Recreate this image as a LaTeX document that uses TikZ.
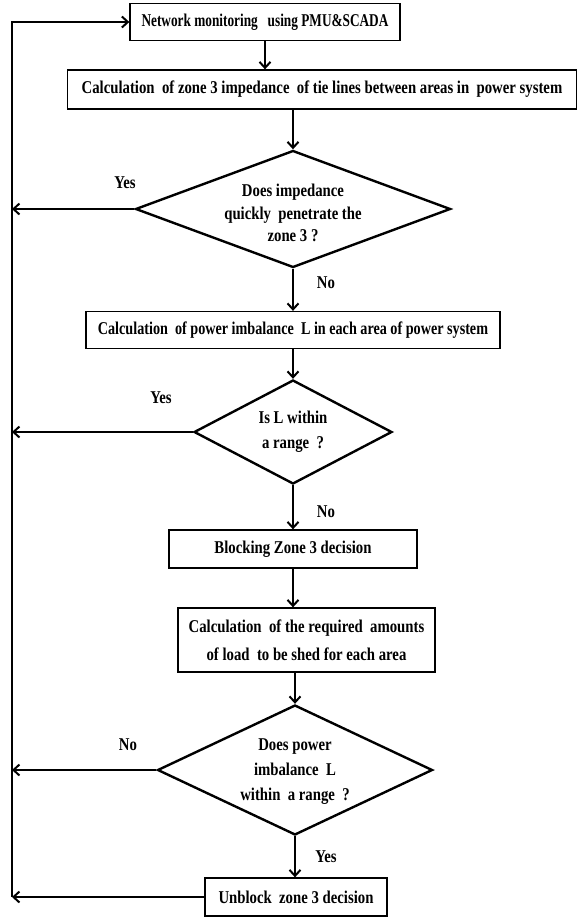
\documentclass[tikz,border=0pt]{standalone}
\usepackage{fontspec}
\setmainfont{Liberation Serif}[FakeStretch=0.82]
\usetikzlibrary{shapes.geometric,arrows.meta}
\begin{document}
\begin{tikzpicture}[x=1pt,y=-1pt,
  every node/.style={font=\bfseries\fontsize{18}{22.5}\selectfont},
  box/.style={draw,line width=1.3pt,inner sep=0pt,align=center},
  dia/.style={draw,diamond,line width=2.4pt,inner sep=0pt},
  txt/.style={align=center,inner sep=0pt},
  arr/.style={line width=2.4pt,-{Straight Barb[length=6pt,width=11pt,line width=2pt]}},
  lab/.style={inner sep=0pt}]
\useasboundingbox (0,0) rectangle (578,918);
\node[box,minimum width=270,minimum height=37] (b1) at (265,22) {\scalebox{0.9}[1]{Network monitoring~~ using PMU\&SCADA}};
\node[box,minimum width=509,minimum height=39] (b2) at (322,89.5) {Calculation~ of zone 3 impedance~ of tie lines between areas in~ power system};
\node[dia,minimum width=315,minimum height=117] (d1) at (293,209) {};
\node[txt] (d1t) at (293,213) {Does impedance\\quickly~ penetrate the\\zone 3 ?};
\node[box,minimum width=414,minimum height=37] (b3) at (293,330) {\scalebox{0.96}[1]{Calculation~ of power imbalance~ L in each area of power system}};
\node[dia,minimum width=198,minimum height=104] (d2) at (293,432) {};
\node[txt,font=\bfseries\fontsize{18}{25}\selectfont] (d2t) at (293,432) {Is L within\\a range~ ?};
\node[box,minimum width=248,minimum height=38] (b4) at (293,549) {Blocking Zone 3 decision};
\node[box,minimum width=257,minimum height=64,font=\bfseries\fontsize{18}{28}\selectfont] (b5) at (306.5,640) {Calculation~ of the required~ amounts\\of load~ to be shed for each area};
\node[dia,minimum width=275,minimum height=130] (d3) at (295,770) {};
\node[txt,font=\bfseries\fontsize{18}{25}\selectfont] (d3t) at (295,772) {Does power\\imbalance~ L\\within~ a range~ ?};
\node[box,minimum width=182,minimum height=38] (b6) at (296,897) {Unblock~ zone 3 decision};
\coordinate (lt) at (12,22);
\coordinate (lb) at (12,897);
\draw[arr] (b1.south) -- (b1.south |- b2.north);
\draw[arr] (b2.south -| d1.north) -- (d1.north);
\draw[arr] (d1.south) -- (d1.south |- b3.north);
\draw[arr] (b3.south -| d2.north) -- (d2.north);
\draw[arr] (d2.south) -- (d2.south |- b4.north);
\draw[arr] (b4.south) -- (b4.south |- b5.north);
\draw[arr] (b5.south -| d3.north) -- (d3.north);
\draw[arr] (d3.south) -- (d3.south |- b6.north);
\draw[arr] (d1.west) -- (d1.west -| lt);
\draw[arr] (d2.west) -- (d2.west -| lt);
\draw[arr] (d3.west) -- (d3.west -| lt);
\draw[arr] (b6.west) -- (b6.west -| lt);
\draw[arr] (lb) -- (lt) -- (b1.west);
\node[lab] (y1) at (125,183) {Yes};
\node[lab] (n1) at (326,283) {No};
\node[lab] (y2) at (161,398) {Yes};
\node[lab] (n2) at (326,512) {No};
\node[lab] (n3) at (128,745) {No};
\node[lab] (y3) at (326,857) {Yes};
\end{tikzpicture}
\end{document}
